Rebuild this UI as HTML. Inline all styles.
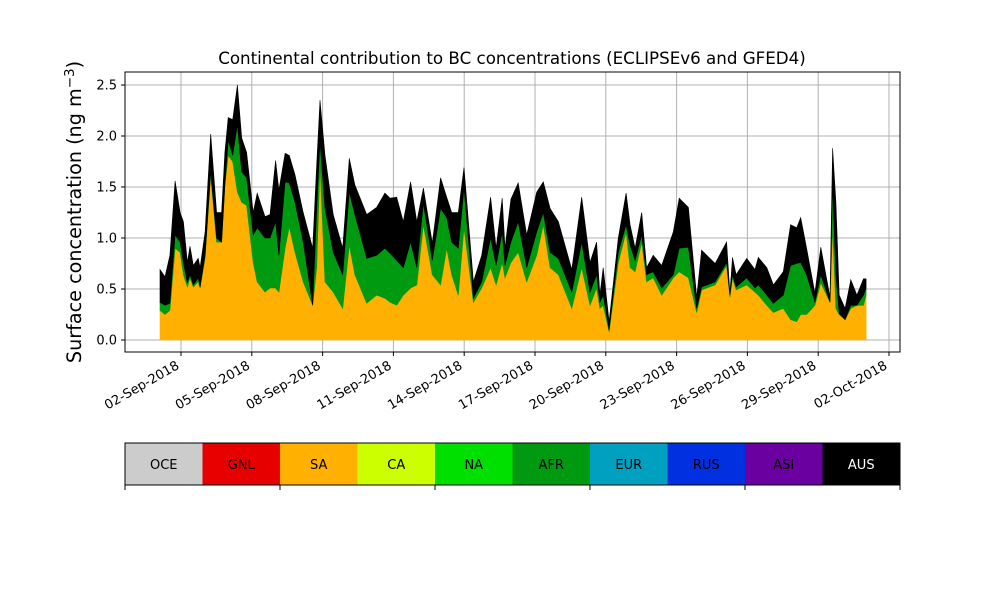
<!DOCTYPE html>
<html><head><meta charset="utf-8"><style>
body{margin:0;background:#fff;}
svg{font-family:"DejaVu Sans","Liberation Sans",sans-serif;}
</style></head><body>
<svg id="chart" width="1000" height="600" xmlns="http://www.w3.org/2000/svg">
<text x="512" y="64" font-size="16.7" text-anchor="middle">Continental contribution to BC concentrations (ECLIPSEv6 and GFED4)</text>
<text transform="translate(81,212) rotate(-90)" font-size="19.2" text-anchor="middle">Surface concentration (ng m<tspan dy="-7" font-size="13.5">−3</tspan><tspan dy="7">)</tspan></text>
<g id="grid"></g><g id="areas"></g><g id="axes"></g><g id="legend"></g>
</svg>
<script>
const days=[0.11,0.32,0.53,0.75,0.96,1.10,1.27,1.38,1.52,1.73,1.81,2.02,2.26,2.51,2.72,2.86,3.00,3.19,3.39,3.57,3.78,4.06,4.23,4.56,4.77,5.01,5.15,5.41,5.59,5.83,6.18,6.58,6.75,6.89,7.10,7.45,7.85,8.13,8.37,8.87,9.29,9.64,9.86,10.14,10.42,10.73,10.99,11.27,11.65,12.0,12.26,12.47,12.75,12.99,13.39,13.74,14.12,14.35,14.61,14.73,14.98,15.29,15.65,16.07,16.35,16.64,16.99,17.56,17.98,18.33,18.61,18.75,18.89,19.14,19.53,19.86,20.03,20.24,20.52,20.73,21.01,21.37,21.86,22.11,22.50,22.85,23.06,23.63,24.12,24.26,24.37,24.52,24.97,25.32,25.46,25.82,26.10,26.52,26.83,27.09,27.26,27.51,27.86,28.11,28.50,28.61,28.75,28.89,29.14,29.38,29.64,29.92,30.03];
const sa=[.29,.25,.29,.90,.86,.64,.52,.61,.52,.57,.51,.81,1.62,.96,.96,1.52,1.81,1.75,1.45,1.35,1.32,.76,.57,.47,.51,.51,.47,.90,1.11,.86,.57,.34,.71,1.72,.57,.47,.31,.93,.64,.36,.44,.41,.37,.34,.44,.51,.54,1.13,.64,.54,.90,.64,.44,1.10,.37,.51,.71,.54,.76,.61,.76,.86,.57,.83,1.13,.71,.64,.31,.71,.34,.51,.31,.34,.08,.76,1.06,.71,.67,.96,.57,.61,.44,.61,.67,.61,.27,.49,.54,.73,.42,.61,.49,.54,.47,.44,.34,.27,.31,.20,.18,.25,.25,.34,.56,.37,1.10,.31,.25,.20,.31,.34,.34,.44];
const afr=[.08,.09,.07,.13,.10,.12,.04,.03,.02,.04,.01,.02,.03,.04,0,0,.15,.06,.66,.30,.27,.27,.53,.53,.49,.65,.36,.65,.43,.49,.39,0,.58,.22,.72,.39,.33,.52,.59,.44,.39,.49,.48,.44,.27,.45,.17,.21,.14,.75,.30,.32,.46,.39,.04,.06,.29,.19,.30,.12,.20,.30,.14,.23,.12,.15,.16,.16,.25,.13,.13,.06,.10,.02,.10,.07,.22,.11,.07,.07,.06,.07,.03,.23,.30,.04,.03,.03,.03,.02,.03,.03,.07,.04,.10,.10,.09,.13,.53,.57,.51,.39,.03,.08,0,.42,.33,.01,0,.03,0,.10,.07];
const aus=[.32,.28,.47,.53,.29,.40,.20,.28,.19,.19,.19,.23,.37,.25,.29,.32,.22,.35,.39,.33,.25,.22,.34,.21,.23,.60,.64,.28,.27,.27,.29,.56,.43,.41,.52,.37,.26,.33,.29,.43,.47,.54,.54,.62,.45,.59,.45,.15,.17,.30,.20,.29,.35,.20,.16,.26,.40,.17,.33,.17,.42,.38,.32,.39,.30,.43,.36,.22,.44,.29,.32,.07,.27,.08,.14,.31,.20,.12,.22,.07,.16,.22,.42,.49,.39,.11,.36,.18,.20,.02,.17,.12,.19,.18,.27,.27,.18,.23,.40,.35,.44,.26,.09,.27,.05,.36,.71,.18,.11,.25,.10,.16,.09];
const yTicks=[0,0.5,1.0,1.5,2.0,2.5];
const xTickDays=[1,4,7,10,13,16,19,22,25,28,31];
const xTickLabels=["02-Sep-2018","05-Sep-2018","08-Sep-2018","11-Sep-2018","14-Sep-2018","17-Sep-2018","20-Sep-2018","23-Sep-2018","26-Sep-2018","29-Sep-2018","02-Oct-2018"];
const regions=["OCE","GNL","SA","CA","NA","AFR","EUR","RUS","ASI","AUS"];
const regionColors=["#cccccc","#e60000","#ffb000","#ccff00","#00e000","#009a10","#00a0c0","#0030e0","#6a00a0","#000000"];

const NS="http://www.w3.org/2000/svg";
const X=d=>181+(d-1)*23.6, Y=v=>340-102*v;
function mk(tag,attrs,parent){const e=document.createElementNS(NS,tag);for(const k in attrs)e.setAttribute(k,attrs[k]);parent.appendChild(e);return e;}
const grid=document.getElementById('grid'),areas=document.getElementById('areas'),axes=document.getElementById('axes'),legend=document.getElementById('legend');
mk('rect',{x:125,y:72,width:775,height:280,fill:'#fff'},grid);
yTicks.forEach(v=>{const l=mk('line',{x1:125,x2:900,y1:Y(v),y2:Y(v),stroke:'#b0b0b0','stroke-width':1},grid);

});
xTickDays.forEach(d=>{const l=mk('line',{x1:X(d),x2:X(d),y1:72,y2:352,stroke:'#b0b0b0','stroke-width':1},grid);

});
let base=days.map(()=>0);
[[sa,'#ffb000','area-sa'],[afr,'#009a10','area-afr'],[aus,'#000000','area-aus']].forEach(([s,c,n])=>{
 const top=base.map((b,i)=>b+s[i]);
 let d='M'+days.map((t,i)=>X(t).toFixed(1)+','+Y(top[i]).toFixed(1)).join('L');
 for(let i=days.length-1;i>=0;i--)d+='L'+X(days[i]).toFixed(1)+','+Y(base[i]).toFixed(1);
 const p=mk('path',{d:d+'Z',fill:c,stroke:c,'stroke-width':0.6},areas);
 
 
 base=top;});
const frame=mk('rect',{x:125,y:72,width:775,height:280,fill:'none',stroke:'#000','stroke-width':1},axes);


yTicks.forEach(v=>{mk('line',{x1:121,x2:125,y1:Y(v),y2:Y(v),stroke:'#000'},axes);
 const t=mk('text',{x:117,y:Y(v)+4.5,'font-size':13,'text-anchor':'end'},axes);t.textContent=v.toFixed(1);
 
 });
xTickDays.forEach((d,i)=>{mk('line',{x1:X(d),x2:X(d),y1:352,y2:356,stroke:'#000'},axes);
 const t=mk('text',{transform:`translate(${X(d)-1},${368}) rotate(-30)`,'font-size':13,'text-anchor':'end'},axes);t.textContent=xTickLabels[i];
 
 });
const w=77.5;
regions.forEach((r,i)=>{const x=125+i*w;
 const c=mk('rect',{x:x,y:443,width:w,height:42,fill:regionColors[i]},legend);
 
 
 const t=mk('text',{x:x+w/2,y:469,'font-size':13,'text-anchor':'middle',fill:r==='AUS'?'#fff':'#000'},legend);t.textContent=r;
 
 });
mk('rect',{x:125,y:443,width:775,height:42,fill:'none',stroke:'#000','stroke-width':1},legend);
[0,2,4,6,8,10].forEach(i=>mk('line',{x1:125+i*w,x2:125+i*w,y1:485,y2:490,stroke:'#000'},legend));
</script>
</body></html>
